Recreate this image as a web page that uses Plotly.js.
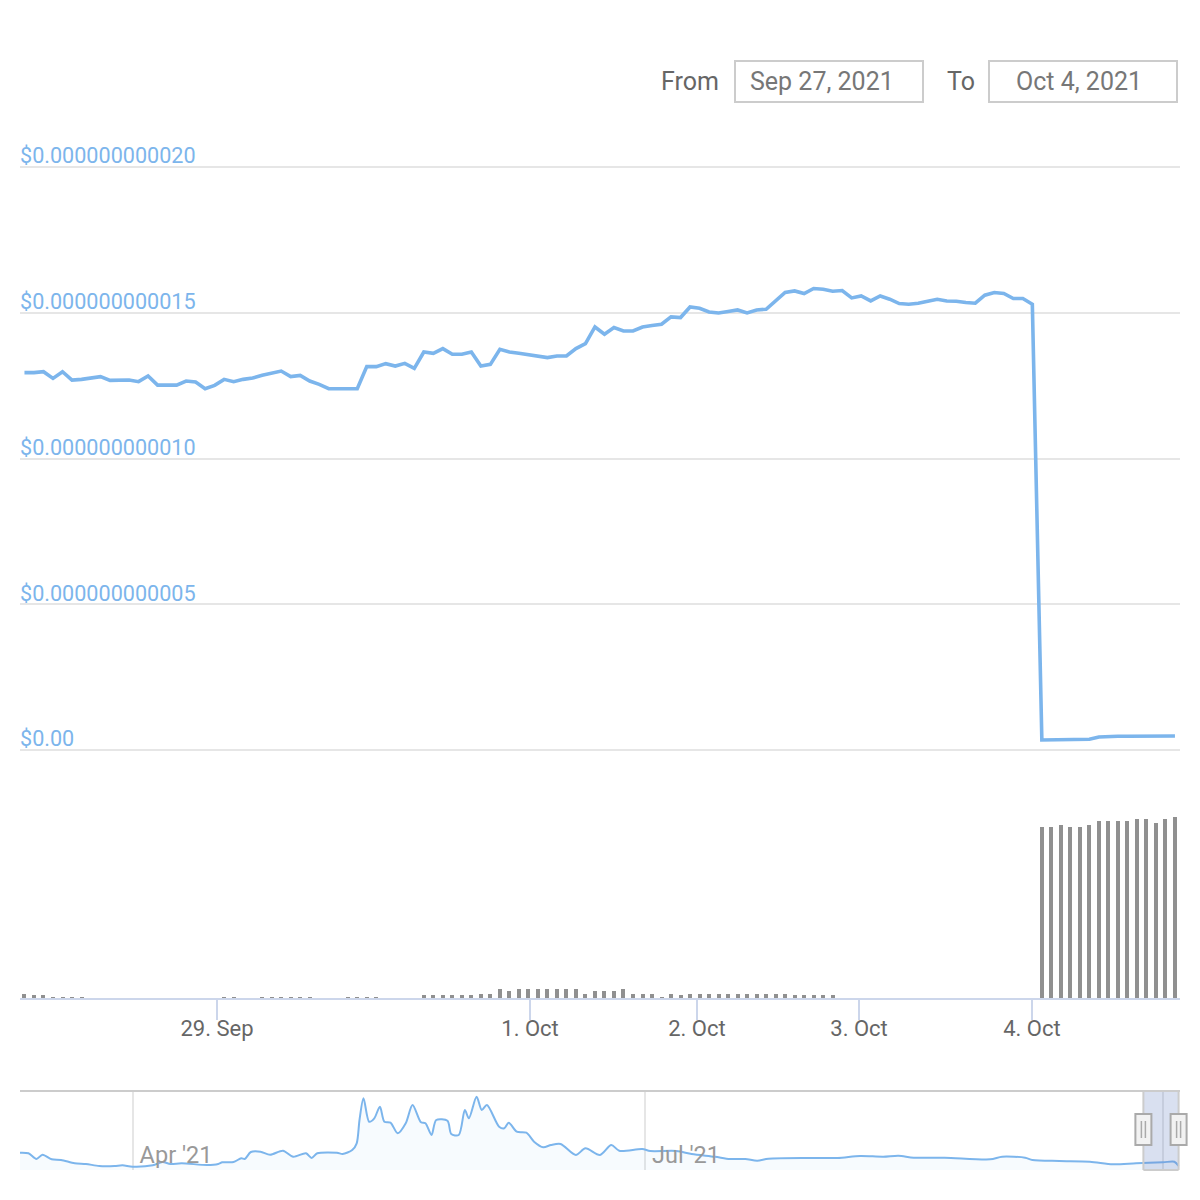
<!DOCTYPE html>
<html><head><meta charset="utf-8">
<script src="https://cdn.plot.ly/plotly-3.0.1.min.js"></script>
<style>html,body{margin:0;padding:0;background:#fff}#chart{width:1200px;height:1200px}</style>
</head><body><div id="chart"></div>
<script>
// ---- data (price in units of 1e-12 USD, ordinal hourly-ish points) ----
const priceE12 = [12.945,12.945,12.979,12.749,12.979,12.691,12.715,12.749,12.808,12.680,
12.687,12.691,12.636,12.828,12.519,12.519,12.519,12.656,12.622,12.395,
12.509,12.715,12.636,12.715,12.759,12.852,12.921,13.000,12.808,12.852,
12.656,12.543,12.395,12.395,12.395,12.395,13.151,13.151,13.254,13.172,
13.265,13.093,13.653,13.608,13.770,13.574,13.574,13.653,13.172,13.230,
13.746,13.653,13.608,13.564,13.515,13.460,13.515,13.515,13.770,13.942,
14.512,14.261,14.491,14.375,14.375,14.512,14.560,14.605,14.856,14.835,
15.199,15.155,15.027,14.993,15.041,15.096,14.993,15.096,15.120,15.405,
15.694,15.749,15.660,15.832,15.808,15.739,15.763,15.509,15.577,15.405,
15.577,15.464,15.316,15.292,15.326,15.395,15.464,15.405,15.395,15.351,
15.326,15.601,15.694,15.660,15.488,15.488,15.292,0.344,0.344,0.351,
0.354,0.361,0.368,0.447,0.471,0.471,0.471,0.471,0.471,0.471,0.471,0.481];

const volume = [4.3,2.7,2.7,1,0.7,0.7,0.7,0,0,0,
0,0,0,0,0,0,0,0,0,0,
0,1,1,0,0,1,1,1,1,1,
1,0,0,0,1,1,1,1,0,0,
0,0,2.7,2.7,2.7,2.7,2.7,2.7,4.3,4.3,
8.7,6.7,8.7,8.7,8.7,8.7,8.7,8.7,8.7,4.3,
6.7,6.7,6.7,8.7,4.3,4.3,4.3,1,4.3,2.7,
4.3,4.3,4.3,4.3,4.3,4.3,4.3,4.3,4.3,4.3,
4.3,2.7,2.7,2.7,2.7,2.7,0,0,0,0,
0,0,0,0,0,0,0,0,0,0,
0,0,0,0,0,0,0,171.3,171.3,173.3,
171.3,171.3,173.3,177.3,177.3,177.3,177.3,179.3,179.3,175.3,179.3,181.3];

const tickPos = [20.25, 53.17, 70.73, 87.77, 105.96];
const tickLabels = ['29. Sep', '1. Oct', '2. Oct', '3. Oct', '4. Oct'];
const priceTicks = [0, 5e-12, 1e-11, 1.5e-11, 2e-11];

const navDates = ['2021-03-12','2021-03-13 12:00','2021-03-14 22:00','2021-03-16','2021-03-17 15:00','2021-03-19 07:00','2021-03-21 17:00','2021-03-23 17:00','2021-03-26 02:00','2021-03-28 19:00',
'2021-03-30 05:00','2021-04-01','2021-04-04 14:00','2021-04-06 07:00','2021-04-07 17:00','2021-04-09 17:00','2021-04-14 05:00','2021-04-16 05:00','2021-04-16 22:00','2021-04-18 22:00',
'2021-04-20 07:00','2021-04-20 22:00','2021-04-22','2021-04-23 17:00','2021-04-25 10:00','2021-04-27 17:00','2021-04-29 12:00','2021-05-01 19:00','2021-05-02 19:00','2021-05-03 19:00',
'2021-05-07 07:00','2021-05-08 07:00','2021-05-10','2021-05-10 19:00','2021-05-11 07:00','2021-05-12','2021-05-13','2021-05-13 22:00','2021-05-14 22:00','2021-05-15 17:00',
'2021-05-16 19:00','2021-05-18 02:00','2021-05-19 12:00','2021-05-20 17:00','2021-05-22 05:00','2021-05-23','2021-05-24 02:00','2021-05-24 22:00','2021-05-26 22:00','2021-05-27 14:00',
'2021-05-28 22:00','2021-05-30','2021-05-30 17:00','2021-06-01 02:00','2021-06-02','2021-06-02 22:00','2021-06-05 02:00','2021-06-06','2021-06-06 19:00','2021-06-08 05:00',
'2021-06-09 22:00','2021-06-11 07:00','2021-06-12 22:00','2021-06-14 07:00','2021-06-16','2021-06-18 17:00','2021-06-20 10:00','2021-06-23','2021-06-25','2021-06-26 10:00',
'2021-06-30 12:00','2021-07-01 22:00','2021-07-06 14:00','2021-07-09 07:00','2021-07-13 10:00','2021-07-16 02:00','2021-07-18 19:00','2021-07-20 22:00','2021-07-22 22:00','2021-07-30 10:00',
'2021-08-04 05:00','2021-08-08 05:00','2021-08-12 07:00','2021-08-15','2021-08-17 17:00','2021-08-23 05:00','2021-08-31 07:00','2021-09-02 10:00','2021-09-06 12:00','2021-09-07 19:00',
'2021-09-12 14:00','2021-09-18','2021-09-22 02:00','2021-09-26 05:00','2021-10-01','2021-10-03','2021-10-03 18:00'];
const navValsE12 = [35.0,33.8,22.3,31.0,21.7,20.3,13.6,12.2,8.1,8.1,
9.5,6.7,9.5,16.2,12.2,13.6,10.1,12.2,15.6,16.2,
23.7,22.3,36.5,37.1,31.0,39.1,26.9,33.8,24.3,33.8,
35.0,32.4,40.5,54.1,101.3,145.2,97.8,104.7,128.2,97.8,
95.8,74.3,94.6,131.6,96.6,94.6,70.9,101.3,99.8,72.9,
70.9,121.5,104.7,148.4,121.5,131.6,87.7,84.4,95.8,77.6,
75.5,57.3,46.0,50.6,52.7,30.4,43.9,30.4,50.6,39.1,
42.5,38.5,38.5,32.4,26.9,22.3,22.3,18.8,22.9,24.3,
24.3,28.4,26.9,29.0,24.9,24.9,21.7,26.9,24.9,20.3,
18.2,16.8,11.5,13.6,15.6,16.8,8.1];
const navTicks = ['2021-04-01', '2021-07-01', '2021-10-01'];
const navTickLabels = ["Apr '21", "Jul '21", ""];
const navRange = ['2021-03-12', '2021-10-04'];

const rangeFrom = 'Sep 27, 2021', rangeTo = 'Oct 4, 2021';
const maskStart = '2021-09-27 12:00', maskEnd = '2021-10-03 18:00';

// ---- helpers ----
const W = 1200, H = 1200;
const X = p => p / W, Y = p => 1 - p / H;
const idx = priceE12.map((_, i) => i);
const price = priceE12.map(v => v * 1e-12);
const navVals = navValsE12.map(v => v * 1e-12);
const fmt = v => v === 0 ? '$0.00' : '$' + v.toFixed(12);
const FONT = 'Roboto, "Open Sans", sans-serif';
const PLOT_L = 20, PLOT_R = 1180;
const toMs = s => { const p = s.split(' '); return Date.parse(p[0] + 'T' + (p[1] || '00:00') + ':00Z'); };
const navPaperX = s => X(PLOT_L + (toMs(s) - toMs(navRange[0])) / (toMs(navRange[1]) - toMs(navRange[0])) * (PLOT_R - PLOT_L));

// price pane: 0 at y=750px, 2e-11 at y=167px; pad range so edge gridlines and top label show
const pxPerUnit = (750 - 167) / 2e-11;
const padLo = 0.25e-12, padHi = 1.1e-12;
const priceRange = [-padLo, 2e-11 + padHi];
const priceDomain = [Y(750 + padLo * pxPerUnit), Y(167 - padHi * pxPerUnit)];

const traces = [
  {x: navDates, y: navVals, type: 'scatter', mode: 'lines', xaxis: 'x2', yaxis: 'y3',
   line: {color: '#7cb5ec', width: 2, shape: 'spline', smoothing: 0.8},
   fill: 'tozeroy', fillcolor: 'rgba(124,181,236,0.06)', hoverinfo: 'skip'},
  {x: idx, y: volume, type: 'bar', xaxis: 'x', yaxis: 'y2', width: 0.42,
   marker: {color: '#909090', line: {width: 0}}, hoverinfo: 'skip'},
  {x: idx, y: price, type: 'scatter', mode: 'lines', xaxis: 'x', yaxis: 'y',
   line: {color: '#7cb5ec', width: 3.6}, hoverinfo: 'skip'}
];

const handle = (t) => {
  const cx = navPaperX(t), d = 1 / W;
  return [
    {type: 'rect', xref: 'paper', x0: cx - 8 * d, x1: cx + 8 * d,
     yref: 'paper', y0: Y(1145), y1: Y(1114), fillcolor: '#f2f2f2', line: {color: '#aaaaaa', width: 2}},
    {type: 'line', xref: 'paper', x0: cx - 2 * d, x1: cx - 2 * d,
     yref: 'paper', y0: Y(1138), y1: Y(1121), line: {color: '#aaaaaa', width: 1.5}},
    {type: 'line', xref: 'paper', x0: cx + 2 * d, x1: cx + 2 * d,
     yref: 'paper', y0: Y(1138), y1: Y(1121), line: {color: '#aaaaaa', width: 1.5}}
  ];
};

const layout = {
  width: W, height: H, margin: {l: 0, r: 0, t: 0, b: 0},
  paper_bgcolor: '#ffffff', plot_bgcolor: 'rgba(0,0,0,0)', showlegend: false,
  font: {family: FONT}, bargap: 0,
  xaxis: {domain: [X(PLOT_L), X(PLOT_R)], range: [-0.47, 121.53], anchor: 'y2',
    tickmode: 'array', tickvals: tickPos, ticktext: tickLabels,
    ticks: 'outside', ticklen: 20, tickwidth: 2, tickcolor: '#ccd6eb', ticklabelstandoff: -10,
    showline: true, linecolor: '#ccd6eb', linewidth: 2, showgrid: false, zeroline: false,
    tickfont: {family: FONT, size: 22, color: '#666666'}, fixedrange: true},
  yaxis: {domain: priceDomain, range: priceRange, anchor: 'x',
    tickmode: 'array', tickvals: priceTicks, ticktext: priceTicks.map(fmt),
    ticklabelposition: 'inside top', ticks: '', ticklabelstandoff: -3, ticklabelshift: 4,
    tickfont: {family: FONT, size: 21.6, color: '#7cb5ec'},
    showgrid: true, gridcolor: '#e6e6e6', gridwidth: 2, zeroline: false, showline: false, fixedrange: true},
  yaxis2: {domain: [Y(998), Y(780)], range: [0, 218], anchor: 'x', visible: false, fixedrange: true},
  xaxis2: {domain: [X(PLOT_L), X(PLOT_R)], anchor: 'y3', type: 'date', range: navRange,
    tickmode: 'array', tickvals: navTicks, ticktext: navTickLabels,
    ticklabelposition: 'inside right', ticks: '', showline: false, zeroline: false,
    ticklabelshift: 7, ticklabelstandoff: -4,
    showgrid: true, gridcolor: '#e6e6e6', gridwidth: 2,
    tickfont: {family: FONT, size: 23.5, color: '#999999'}, fixedrange: true},
  yaxis3: {domain: [Y(1170), Y(1091)], range: [0, 160e-12], anchor: 'x2', visible: false, fixedrange: true},
  shapes: [
    {type: 'rect', xref: 'x2', x0: maskStart, x1: maskEnd, yref: 'paper', y0: Y(1170), y1: Y(1091),
     fillcolor: 'rgba(102,133,194,0.25)', line: {width: 0}, layer: 'above'},
    {type: 'line', xref: 'paper', x0: X(PLOT_L), x1: X(PLOT_R), yref: 'paper', y0: Y(1091), y1: Y(1091),
     line: {color: '#cccccc', width: 2}},
    {type: 'line', xref: 'x2', x0: maskStart, x1: maskStart, yref: 'paper', y0: Y(1091), y1: Y(1170),
     line: {color: '#cccccc', width: 2}},
    {type: 'line', xref: 'x2', x0: maskEnd, x1: maskEnd, yref: 'paper', y0: Y(1091), y1: Y(1170),
     line: {color: '#cccccc', width: 2}},
    {type: 'line', xref: 'x2', x0: maskStart, x1: maskEnd, yref: 'paper', y0: Y(1170), y1: Y(1170),
     line: {color: '#cccccc', width: 2}},
    ...handle(maskStart), ...handle(maskEnd),
    {type: 'rect', xref: 'paper', yref: 'paper', x0: X(735), x1: X(923), y0: Y(102), y1: Y(61),
     line: {color: '#cccccc', width: 2}, fillcolor: 'rgba(0,0,0,0)'},
    {type: 'rect', xref: 'paper', yref: 'paper', x0: X(989), x1: X(1177), y0: Y(102), y1: Y(61),
     line: {color: '#cccccc', width: 2}, fillcolor: 'rgba(0,0,0,0)'}
  ],
  annotations: [
    {xref: 'paper', yref: 'paper', x: X(721), y: Y(81), xanchor: 'right', yanchor: 'middle',
     text: 'From', showarrow: false, font: {family: FONT, size: 25, color: '#666666'}},
    {xref: 'paper', yref: 'paper', x: X(977), y: Y(81), xanchor: 'right', yanchor: 'middle',
     text: 'To', showarrow: false, font: {family: FONT, size: 25, color: '#666666'}},
    {xref: 'paper', yref: 'paper', x: X(822), y: Y(81), xanchor: 'center', yanchor: 'middle',
     text: rangeFrom, showarrow: false, font: {family: FONT, size: 25, color: '#777777'}},
    {xref: 'paper', yref: 'paper', x: X(1079), y: Y(81), xanchor: 'center', yanchor: 'middle',
     text: rangeTo, showarrow: false, font: {family: FONT, size: 25, color: '#777777'}}
  ]
};

Plotly.newPlot('chart', traces, layout, {displayModeBar: false, staticPlot: true});
</script></body></html>
